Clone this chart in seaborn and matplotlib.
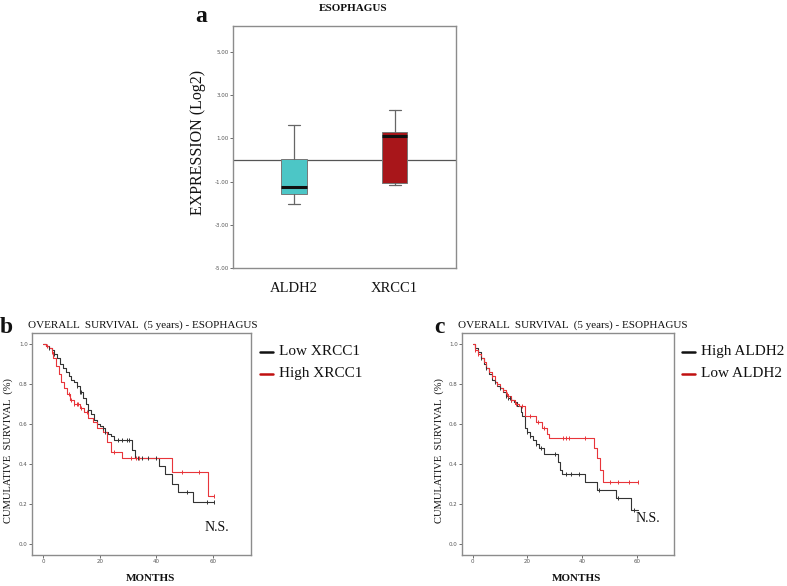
import matplotlib
matplotlib.use("Agg")
import matplotlib.pyplot as plt
import numpy as np
import pandas as pd
import seaborn as sns

# ---- data ----
genes = ["ALDH2", "XRCC1"]
box_colours = ["#4cc6c6", "#a8161a"]
box_q1 = [-1.58, -1.07]
box_med = [-1.26, 1.09]
box_q3 = [0.05, 1.28]
box_whislo = [-2.04, -1.17]
box_whishi = [1.60, 2.30]
expr_ticks = [5, 3, 1, -1, -3, -5]

follow_up_end = 60.5

# panel b: XRCC1
low_xrcc1_t = [0, 1, 2, 3, 4, 5, 6, 7, 8, 9, 10, 11, 12, 13, 14, 15, 16, 17, 18, 19,
               20, 21, 22, 23, 24, 25, 31.3, 32.4, 41, 43, 45.5, 47.5, 53]
low_xrcc1_s = [1.0, 0.99, 0.98, 0.97, 0.95, 0.93, 0.90, 0.88, 0.86, 0.84, 0.82, 0.81,
               0.79, 0.76, 0.73, 0.70, 0.67, 0.65, 0.62, 0.60, 0.59, 0.58, 0.56, 0.55,
               0.54, 0.52, 0.47, 0.43, 0.39, 0.35, 0.30, 0.26, 0.21]
low_xrcc1_cens = [2, 4, 12, 13, 13.5, 16, 21, 22, 26.5, 28, 29.5, 30.5, 33.5, 35, 37,
                  40, 51, 58, 60.5]
high_xrcc1_t = [0, 1, 2, 3, 3.5, 4.5, 5.5, 6.5, 7.5, 8.5, 9.5, 11, 13, 14.5, 16, 17.5,
                19, 21, 22.5, 24, 27.8, 45.7, 58.2]
high_xrcc1_s = [1.0, 0.99, 0.98, 0.96, 0.93, 0.89, 0.85, 0.81, 0.78, 0.75, 0.72, 0.70,
                0.68, 0.66, 0.63, 0.61, 0.58, 0.56, 0.51, 0.46, 0.43, 0.36, 0.24]
high_xrcc1_cens = [1.5, 3, 9, 10, 11, 12, 12.5, 13.5, 15.5, 25, 31, 33, 34, 49, 55, 60.5]

# panel c: ALDH2
high_aldh2_t = [0, 1, 2, 3, 4, 5, 6, 7, 8, 9, 10, 11, 12, 13, 14, 15, 16.2, 17.6, 18.2,
                19, 20, 21, 22, 23, 24.3, 26, 31.3, 31.8, 32.5, 41, 45.5, 52.2, 57.7]
high_aldh2_s = [1.0, 0.98, 0.96, 0.93, 0.90, 0.88, 0.85, 0.82, 0.81, 0.79, 0.78, 0.76,
                0.74, 0.73, 0.72, 0.71, 0.69, 0.66, 0.64, 0.58, 0.56, 0.54, 0.52, 0.50,
                0.48, 0.45, 0.41, 0.37, 0.35, 0.31, 0.27, 0.23, 0.17]
high_aldh2_cens = [3, 5, 8, 10, 12, 13, 13.5, 14, 20, 21, 23, 25, 30, 34, 36, 39, 46,
                   53, 59]
low_aldh2_t = [0, 1, 2, 3, 4, 5, 6, 7, 8, 9, 10, 11, 12, 13, 14, 15.5, 17, 19.2, 23,
               25.5, 27, 28, 44.2, 45.5, 46.5, 47.5]
low_aldh2_s = [1.0, 0.97, 0.95, 0.93, 0.91, 0.88, 0.86, 0.84, 0.81, 0.80, 0.78, 0.77,
               0.75, 0.74, 0.72, 0.70, 0.69, 0.64, 0.61, 0.58, 0.55, 0.53, 0.48, 0.43,
               0.37, 0.31]
low_aldh2_cens = [1, 2, 7, 9, 11, 12.5, 13, 14, 16, 18, 21, 24, 26, 33, 34, 35, 41, 50,
                  53, 57, 60.5]

km_title = "OVERALL  SURVIVAL  (5 years) - ESOPHAGUS"
km_yticks = [0.0, 0.2, 0.4, 0.6, 0.8, 1.0]
km_xticks = [0, 20, 40, 60]

sns.set_theme(style="white")
plt.rcParams["font.family"] = ["DejaVu Sans"]
serif = "Liberation Serif"
frame_col = "#8c8c8c"
tick_col = "#555555"

fig = plt.figure(figsize=(7.87, 5.86), dpi=100)
fig.patch.set_facecolor("white")


def style_frame(ax):
    for sp in ax.spines.values():
        sp.set_visible(True)
        sp.set_color(frame_col)
        sp.set_linewidth(1.0)
    ax.tick_params(axis="both", colors=tick_col, labelsize=4, length=2, width=0.6,
                   direction="out", pad=1)
    ax.tick_params(axis="both", which="both", bottom=True, left=True)


# ---- panel a: box plot ----
ax_a = fig.add_axes([0.296, 0.5427, 0.283, 0.413])
stats = []
for i, g in enumerate(genes):
    stats.append(dict(label=g, med=box_med[i], q1=box_q1[i], q3=box_q3[i],
                      whislo=box_whislo[i], whishi=box_whishi[i], fliers=[]))
bp = ax_a.bxp(stats, positions=[0, 1], widths=0.25, capwidths=0.12, patch_artist=True,
              showfliers=False,
              medianprops=dict(color="#111111", linewidth=2.2),
              whiskerprops=dict(color="#666666", linewidth=0.9),
              capprops=dict(color="#666666", linewidth=0.9),
              boxprops=dict(edgecolor="#777777", linewidth=0.7))
for patch, c in zip(bp["boxes"], box_colours):
    patch.set_facecolor(c)
ax_a.axhline(0, color="#555555", linewidth=0.9, zorder=0)
ax_a.set_xlim(-0.606, 1.606)
ax_a.set_ylim(-5.0, 6.2)
ax_a.set_yticks(expr_ticks)
ax_a.set_yticklabels([f"{v:.2f}" for v in expr_ticks])
style_frame(ax_a)
ax_a.set_xticks([0, 1])
ax_a.set_xticklabels(genes, fontfamily=serif, fontsize=10.5, color="#111111")
ax_a.tick_params(axis="x", length=0, pad=10, labelsize=10.5, colors="#111111")
ax_a.set_ylabel("EXPRESSION (Log2)", fontfamily=serif, fontsize=11.5, color="#111111")
ax_a.yaxis.set_label_coords(-0.12, 0.52)
fig.text(0.449, 0.986, "ESOPHAGUS", fontfamily=serif, fontsize=8, fontweight="bold",
         color="#111111", ha="center", va="center")
fig.text(0.248, 0.962, "a", fontfamily=serif, fontsize=17, fontweight="bold",
         color="#111111")


# ---- KM helper ----
def km_panel(rect, curves, letter, letter_x):
    ax = fig.add_axes(rect)
    rows = []
    for name, t, s, _, _ in curves:
        for ti, si in zip(list(t) + [follow_up_end], list(s) + [s[-1]]):
            rows.append((name, ti, si))
    df = pd.DataFrame(rows, columns=["group", "months", "surv"])
    palette = {name: col for name, _, _, _, col in curves}
    sns.lineplot(data=df, x="months", y="surv", hue="group", palette=palette,
                 estimator=None, drawstyle="steps-post", linewidth=0.8, ax=ax,
                 legend=False)
    for name, t, s, cens, col in curves:
        t_arr = np.asarray(t)
        idx = np.searchsorted(t_arr, cens, side="right") - 1
        ax.plot(cens, np.asarray(s)[idx], linestyle="none", marker="|",
                markersize=3, markeredgewidth=0.7, color=col)
    ax.set_xlim(-3.9, 73.4)
    ax.set_ylim(-0.055, 1.055)
    ax.set_yticks(km_yticks)
    ax.set_yticklabels([f"{v:.1f}" for v in km_yticks])
    ax.set_xticks(km_xticks)
    style_frame(ax)
    ax.set_xlabel("MONTHS", fontfamily=serif, fontsize=8, fontweight="bold",
                  color="#111111")
    ax.xaxis.set_label_coords(0.54, -0.085)
    ax.set_ylabel("CUMULATIVE  SURVIVAL  (%)", fontfamily=serif, fontsize=7.6,
                  color="#111111")
    ax.yaxis.set_label_coords(-0.085, 0.47)
    ax.set_title(km_title, fontfamily=serif, fontsize=8, color="#111111",
                 loc="left", x=-0.02, pad=4)
    fig.text(letter_x, 0.432, letter, fontfamily=serif, fontsize=17,
             fontweight="bold", color="#111111")
    # legend: short line + label
    for k, (name, _, _, _, _) in enumerate(curves):
        ly = 0.915 - k * 0.1
        lcol = "#111111" if k == 0 else "#c01010"
        ax.plot([1.04, 1.10], [ly, ly], transform=ax.transAxes, color=lcol,
                linewidth=1.8, clip_on=False)
        ax.text(1.13, ly, name, transform=ax.transAxes, fontfamily=serif,
                fontsize=11, color="#111111", va="center")
    return ax


ax_b = km_panel([0.0407, 0.0529, 0.278, 0.379],
                [("Low XRCC1", low_xrcc1_t, low_xrcc1_s, low_xrcc1_cens, "#333333"),
                 ("High XRCC1", high_xrcc1_t, high_xrcc1_s, high_xrcc1_cens, "#e8353a")],
                "b", 0.0)
ax_b.text(0.79, 0.11, "N.S.", transform=ax_b.transAxes, fontfamily=serif,
          fontsize=10, color="#111111")

ax_c = km_panel([0.587, 0.0529, 0.269, 0.379],
                [("High ALDH2", high_aldh2_t, high_aldh2_s, high_aldh2_cens, "#333333"),
                 ("Low ALDH2", low_aldh2_t, low_aldh2_s, low_aldh2_cens, "#e8353a")],
                "c", 0.552)
ax_c.text(0.82, 0.15, "N.S.", transform=ax_c.transAxes, fontfamily=serif,
          fontsize=10, color="#111111")

fig.savefig("out.png", dpi=100, facecolor="white")
